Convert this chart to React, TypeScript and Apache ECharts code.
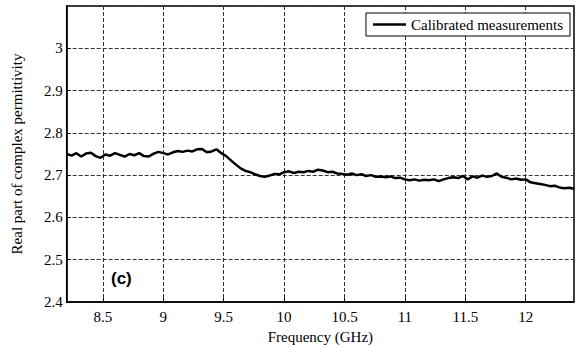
import React, { useEffect, useRef } from "react";
import * as echarts from "echarts";

const freqs: number[] = [
  8.2, 8.24, 8.28, 8.32, 8.36, 8.4, 8.44, 8.48, 8.52, 8.56, 8.6, 8.64, 8.68, 8.72, 8.76, 8.8, 8.84, 8.88, 8.92, 8.96,
  9.0, 9.04, 9.08, 9.12, 9.16, 9.2, 9.24, 9.28, 9.32, 9.36, 9.4, 9.44, 9.48, 9.52, 9.56, 9.6, 9.64, 9.68, 9.72, 9.76,
  9.8, 9.84, 9.88, 9.92, 9.96, 10.0, 10.04, 10.08, 10.12, 10.16, 10.2, 10.24, 10.28, 10.32, 10.36, 10.4, 10.44, 10.48,
  10.52, 10.56, 10.6, 10.64, 10.68, 10.72, 10.76, 10.8, 10.84, 10.88, 10.92, 10.96, 11.0, 11.04, 11.08, 11.12, 11.16,
  11.2, 11.24, 11.28, 11.32, 11.36, 11.4, 11.44, 11.48, 11.52, 11.56, 11.6, 11.64, 11.68, 11.72, 11.76, 11.8, 11.84,
  11.88, 11.92, 11.96, 12.0, 12.04, 12.08, 12.12, 12.16, 12.2, 12.24, 12.28, 12.32, 12.36, 12.4,
];

const permittivity: number[] = [
  2.75, 2.746, 2.752, 2.744, 2.751, 2.753, 2.745, 2.741, 2.749, 2.746, 2.752, 2.748, 2.744, 2.75, 2.747, 2.752, 2.745,
  2.744, 2.751, 2.755, 2.752, 2.749, 2.754, 2.757, 2.755, 2.758, 2.756, 2.761, 2.762, 2.754, 2.756, 2.761, 2.752, 2.745,
  2.735, 2.725, 2.716, 2.71, 2.707, 2.702, 2.698, 2.696, 2.699, 2.703, 2.702, 2.707, 2.709, 2.705, 2.708, 2.707, 2.71,
  2.708, 2.713, 2.711, 2.707, 2.708, 2.704, 2.703, 2.701, 2.704, 2.7, 2.702, 2.698, 2.7, 2.696, 2.697, 2.695, 2.697,
  2.693, 2.694, 2.69, 2.688, 2.69, 2.687, 2.689, 2.688, 2.69, 2.686, 2.69, 2.693, 2.695, 2.693, 2.698, 2.69, 2.697,
  2.694, 2.699, 2.696, 2.698, 2.704, 2.696, 2.694, 2.69, 2.692, 2.689, 2.69, 2.683, 2.681, 2.679, 2.677, 2.674, 2.675,
  2.671, 2.669, 2.67, 2.668,
];

const xTicks: number[] = [8.5, 9, 9.5, 10, 10.5, 11, 11.5, 12];
const seriesName = "Calibrated measurements";
const panelLabel = "(c)";

const serif = "Liberation Serif";

export default function App() {
  const ref = useRef<HTMLDivElement>(null);
  useEffect(() => {
    if (!ref.current) return;
    const chart = echarts.init(ref.current, null, { renderer: "svg" });
    chart.setOption({
      animation: false,
      backgroundColor: "#fff",
      grid: {
        left: 66.7,
        right: 1,
        top: 6,
        bottom: 45,
        containLabel: false,
        outerBoundsMode: "none",
        show: true,
        borderColor: "#000",
        borderWidth: 1.5,
      },
      legend: {
        right: 5,
        top: 13,
        backgroundColor: "#fff",
        borderColor: "#000",
        borderWidth: 1,
        borderRadius: 0,
        padding: [4, 7, 4, 7],
        icon: "rect",
        itemWidth: 33,
        itemHeight: 2.5,
        itemGap: 5,
        textStyle: { fontFamily: serif, fontSize: 15, color: "#000", lineHeight: 14 },
        data: [seriesName],
      },
      xAxis: {
        type: "value",
        min: 8.2,
        max: 12.4,
        position: "bottom",
        name: "Frequency (GHz)",
        nameLocation: "middle",
        nameGap: 27,
        nameTextStyle: { fontFamily: serif, fontSize: 15, color: "#000" },
        axisLine: { show: true, onZero: false, lineStyle: { color: "#000", width: 1.5 } },
        axisTick: { show: true, inside: true, length: 4, customValues: xTicks, lineStyle: { color: "#000" } },
        axisLabel: { customValues: xTicks, fontFamily: serif, fontSize: 15, color: "#000", margin: 7 },
        splitLine: { show: true, lineStyle: { color: "#333", type: "dashed", width: 1 } },
      },
      yAxis: {
        type: "value",
        min: 2.4,
        max: 3.1,
        interval: 0.1,
        position: "left",
        name: "Real part of complex permittivity",
        nameLocation: "middle",
        nameGap: 42,
        nameTextStyle: { fontFamily: serif, fontSize: 15, color: "#000" },
        axisLine: { show: true, onZero: false, lineStyle: { color: "#000", width: 1.5 } },
        axisTick: { show: true, inside: true, length: 4, lineStyle: { color: "#000" } },
        axisLabel: {
          fontFamily: serif,
          fontSize: 15,
          color: "#000",
          margin: 4,
          showMaxLabel: false,
          formatter: (v: number) => String(parseFloat(v.toFixed(2))),
        },
        splitLine: { show: true, lineStyle: { color: "#333", type: "dashed", width: 1 } },
      },
      series: [
        {
          name: seriesName,
          type: "line",
          symbol: "none",
          showSymbol: false,
          lineStyle: { color: "#000", width: 2.5 },
          itemStyle: { color: "#000" },
          data: freqs.map((f, i) => [f, permittivity[i]]),
        },
      ],
      graphic: [
        {
          type: "text",
          left: 111,
          top: 270,
          style: {
            text: panelLabel,
            fontFamily: "Liberation Sans",
            fontWeight: "bold",
            fontSize: 17,
            fill: "#000",
          },
        },
      ],
    });
    return () => chart.dispose();
  }, []);
  return (
    <div
      ref={ref}
      style={{ position: "fixed", left: 0, top: 0, width: 575, height: 347, background: "#fff" }}
    />
  );
}
